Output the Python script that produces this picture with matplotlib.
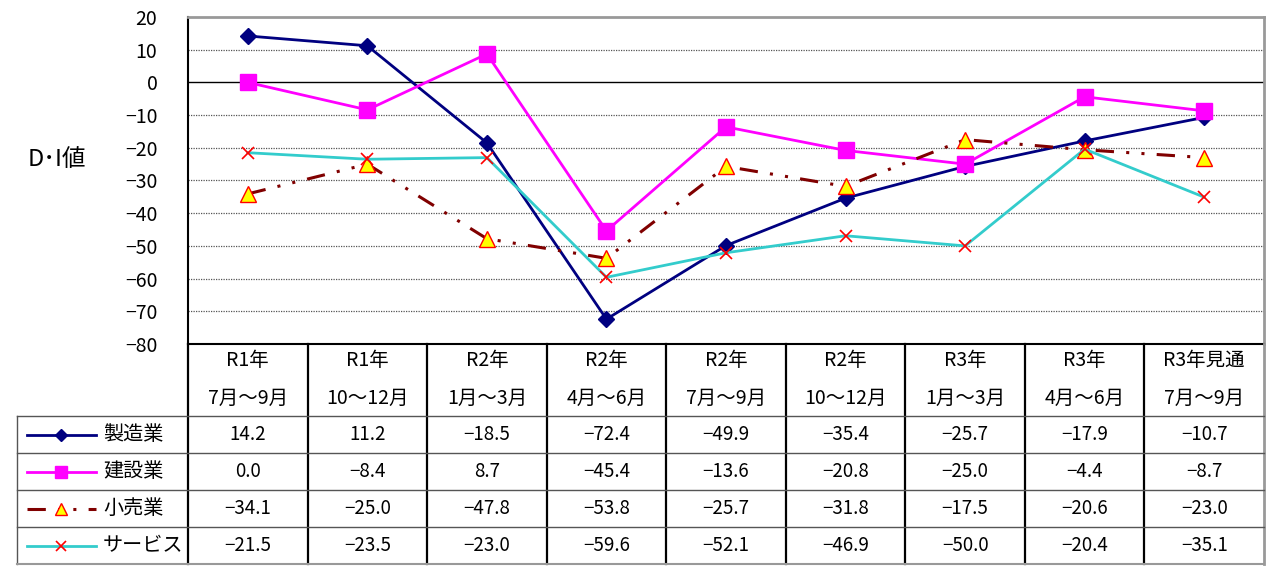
import matplotlib
matplotlib.use('Agg')
import matplotlib.pyplot as plt

plt.rcParams['font.family'] = ['Noto Sans CJK JP', 'DejaVu Sans']

periods_top = ['R1年', 'R1年', 'R2年', 'R2年', 'R2年', 'R2年', 'R3年', 'R3年', 'R3年見通']
periods_bottom = ['7月～9月', '10～12月', '1月～3月', '4月～6月', '7月～9月',
                  '10～12月', '1月～3月', '4月～6月', '7月～9月']
series_names = ['製造業', '建設業', '小売業', 'サービス']
seizo = [14.2, 11.2, -18.5, -72.4, -49.9, -35.4, -25.7, -17.9, -10.7]
kensetsu = [0.0, -8.4, 8.7, -45.4, -13.6, -20.8, -25.0, -4.4, -8.7]
kouri = [-34.1, -25.0, -47.8, -53.8, -25.7, -31.8, -17.5, -20.6, -23.0]
service = [-21.5, -23.5, -23.0, -59.6, -52.1, -46.9, -50.0, -20.4, -35.1]
yticks = list(range(-80, 21, 10))

styles = [
    dict(color='#000080', marker='D', ms=8.5, mfc='#000080', mec='#000080', ls='-', lw=2),
    dict(color='#FF00FF', marker='s', ms=11, mfc='#FF00FF', mec='#FF00FF', ls='-', lw=2),
    dict(color='#800000', marker='^', ms=11, mfc='#FFFF00', mec='#FF0000', lw=2.2,
         ls=(0, (6, 4, 1, 4, 1, 4))),
    dict(color='#33CCCC', marker='x', ms=9, mfc='none', mec='#FF0000', mew=1.2, ls='-', lw=2),
]
all_series = [seizo, kensetsu, kouri, service]

W, H = 1268, 566
fig = plt.figure(figsize=(W / 100, H / 100), dpi=100)

L, R, T, B = 188, 1264, 17, 344
ax = fig.add_axes([L / W, 1 - B / H, (R - L) / W, (B - T) / H])
x = list(range(len(seizo)))
for vals, st in zip(all_series, styles):
    ax.plot(x, vals, zorder=3, **st)

ax.set_xlim(-0.5, len(x) - 0.5)
ax.set_ylim(-80, 20)
ax.set_yticks(yticks)
ax.set_yticklabels([str(v).replace('-', '−') for v in yticks], fontsize=14)
ax.set_xticks([])
ax.tick_params(axis='y', length=0, pad=22)
for v in yticks:
    if v == 0:
        ax.axhline(v, color='black', lw=1, zorder=1)
    elif -80 < v < 20:
        ax.axhline(v, color='#555555', lw=0.9, ls=(0, (1, 1)), zorder=1)
ax.spines['top'].set_color('#999999')
ax.spines['top'].set_linewidth(2)
ax.spines['right'].set_color('#999999')
ax.spines['right'].set_linewidth(2)
ax.spines['left'].set_linewidth(1.5)
ax.spines['bottom'].set_linewidth(1.5)

fig.text(57 / W, 1 - 160 / H, 'D･I値', fontsize=17, ha='center', va='center')

# table below, in pixel coordinates
tb = fig.add_axes([0, 0, 1, 1])
tb.set_xlim(0, W)
tb.set_ylim(H, 0)
tb.axis('off')

col_w = (R - L) / len(x)
cols = [L + i * col_w for i in range(len(x) + 1)]
head1, head2 = 361, 398
rows = [416, 453, 490, 527, 564]

for c in cols[:-1]:
    tb.plot([c, c], [B, rows[-1]], color='black', lw=1.6)
tb.plot([R, R], [B, rows[-1]], color='#999999', lw=2)
tb.plot([17, 17], [rows[0], rows[-1]], color='#555555', lw=1)
for yy in rows[:-1]:
    tb.plot([17, R], [yy, yy], color='#555555', lw=1)
tb.plot([17, R], [rows[-1], rows[-1]], color='#999999', lw=1.5)

for i in range(len(x)):
    cx = (cols[i] + cols[i + 1]) / 2
    tb.text(cx, head1, periods_top[i], ha='center', va='center', fontsize=14)
    tb.text(cx, head2, periods_bottom[i], ha='center', va='center', fontsize=14)

for r, (name, vals, st) in enumerate(zip(series_names, all_series, styles)):
    cy = (rows[r] + rows[r + 1]) / 2
    st2 = dict(st)
    st2['ms'] = st['ms'] * 0.75
    tb.plot([27, 96], [cy, cy], **{k: v for k, v in st2.items() if k != 'marker'})
    tb.plot([61], [cy], ls='none', **{k: v for k, v in st2.items() if k not in ('ls', 'lw', 'color')})
    tb.text(103, cy, name, ha='left', va='center', fontsize=14.5)
    for i, v in enumerate(vals):
        cx = (cols[i] + cols[i + 1]) / 2
        tb.text(cx, cy, f'{v:.1f}'.replace('-', '−'), ha='center', va='center', fontsize=13.5)

fig.savefig('out.png', dpi=100)
